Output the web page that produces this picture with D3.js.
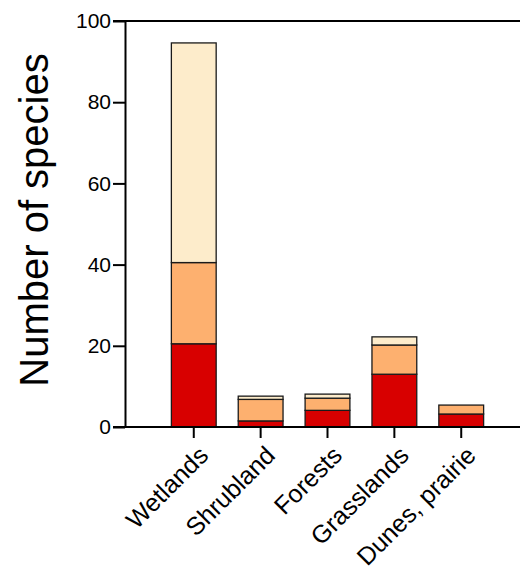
<!DOCTYPE html>
<html><head><meta charset="utf-8">
<script src="https://cdn.jsdelivr.net/npm/d3@7"></script>
<style>body{margin:0;background:#fff}svg{display:block;font-family:"Liberation Sans",Arial,sans-serif}</style>
</head><body>
<svg id="c" width="520" height="569"></svg>
<script>
const categories = ["Wetlands","Shrubland","Forests","Grasslands","Dunes, prairie"];
const seriesNames = ["low","mid","high"];
const lowValues  = [20.5, 1.5, 4.1, 13.0, 3.2];
const midValues  = [20.0, 5.3, 3.0, 7.2, 2.2];
const highValues = [54.1, 0.8, 1.0, 2.0, 0];
const yTicks = [0,20,40,60,80,100];
const colors = ["#d80000","#fdb06f","#fdeccb"];

const rows = categories.map((c,i)=>({cat:c, low:lowValues[i], mid:midValues[i], high:highValues[i]}));
const stack = d3.stack().keys(seriesNames)(rows);

const svg = d3.select("#c");
const x0 = 125, x1 = 520, yTop = 21, yBot = 427;
const x = d3.scaleBand().domain(categories).range([158, 497]).paddingInner(0.33).paddingOuter(0.2);
const y = d3.scaleLinear().domain([0,100]).range([yBot, yTop]);

// bars
svg.append("g").selectAll("g").data(stack).join("g")
  .attr("fill",(d,i)=>colors[i])
  .selectAll("rect").data(d=>d.filter(s=>s[1]-s[0]>0)).join("rect")
  .attr("x",d=>x(d.data.cat))
  .attr("width",x.bandwidth())
  .attr("y",d=>y(d[1]))
  .attr("height",d=>y(d[0])-y(d[1]))
  .attr("stroke","#1a1a1a").attr("stroke-width",1.3);

// y axis
const ya = svg.append("g").attr("transform",`translate(${x0},0)`)
  .call(d3.axisLeft(y).tickValues(yTicks).tickSize(12).tickPadding(2).tickSizeOuter(0));
ya.select(".domain").attr("stroke","#000").attr("stroke-width",2);
ya.selectAll(".tick line").attr("stroke","#000").attr("stroke-width",2);
ya.selectAll(".tick text").attr("font-size",21).attr("fill","#000").attr("font-family","Liberation Sans, Arial, sans-serif");

// top line and bottom axis line
svg.append("line").attr("x1",113).attr("x2",x1).attr("y1",y(100)).attr("y2",y(100)).attr("stroke","#000").attr("stroke-width",2);
svg.append("line").attr("x1",113).attr("x2",x1).attr("y1",y(0)).attr("y2",y(0)).attr("stroke","#000").attr("stroke-width",2);

// x ticks
const xa = svg.append("g").attr("transform",`translate(0,${yBot})`)
  .call(d3.axisBottom(x).tickSize(11).tickSizeOuter(0));
xa.select(".domain").remove();
xa.selectAll(".tick line").attr("stroke","#000").attr("stroke-width",2);
xa.selectAll(".tick text")
  .attr("font-size",25).attr("fill","#000").attr("font-family","Liberation Sans, Arial, sans-serif")
  .attr("text-anchor","end")
  .attr("dy",null).attr("y",null)
  .attr("transform","translate(16,30) rotate(-45)");

// y title
svg.append("text").attr("transform",`translate(48,220) rotate(-90)`)
  .attr("text-anchor","middle").attr("font-size",40).attr("fill","#000")
  .text("Number of species");
</script>
</body></html>
